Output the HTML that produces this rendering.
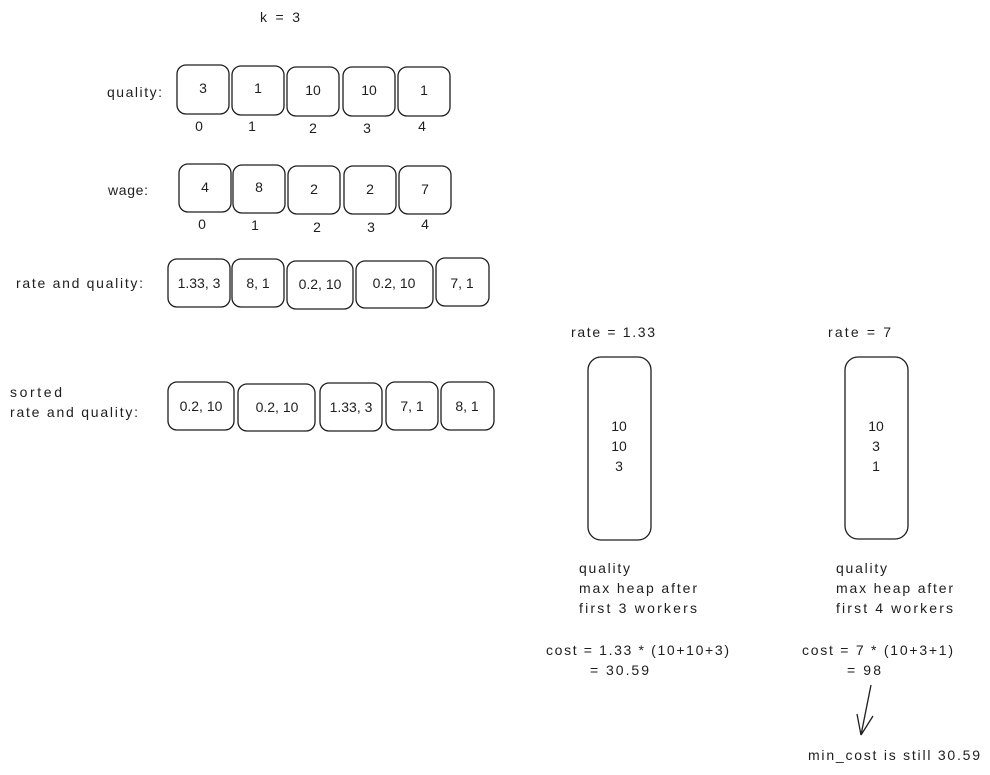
<!DOCTYPE html>
<html><head><meta charset="utf-8"><style>
html,body{margin:0;padding:0;background:#fff;}
svg{display:block;}
text{font-family:"Liberation Sans",sans-serif;font-size:14px;fill:#1e1e1e;}
rect{fill:none;stroke:#1e1e1e;stroke-width:1.3;}
</style></head><body>
<svg width="990" height="775" viewBox="0 0 990 775" xmlns="http://www.w3.org/2000/svg">
<text x="260" y="22" textLength="40">k = 3</text>

<text x="107" y="97" textLength="55">quality:</text>
<rect x="177" y="65" width="52" height="49" rx="9"/>
<rect x="232" y="66" width="52" height="49" rx="9"/>
<rect x="287" y="67" width="52" height="49" rx="9"/>
<rect x="343" y="67" width="52" height="49" rx="9"/>
<rect x="398" y="67" width="52" height="49" rx="9"/>
<g text-anchor="middle">
<text x="203" y="93">3</text><text x="258" y="93">1</text><text x="313" y="95">10</text><text x="369" y="95">10</text><text x="424" y="95">1</text>
<text x="199" y="131">0</text><text x="252" y="131">1</text><text x="313" y="133">2</text><text x="367" y="133">3</text><text x="422" y="131">4</text>
</g>

<text x="108" y="195" textLength="40">wage:</text>
<rect x="179" y="164" width="52" height="48" rx="9"/>
<rect x="233" y="165" width="52" height="48" rx="9"/>
<rect x="288" y="166" width="52" height="48" rx="9"/>
<rect x="344" y="166" width="52" height="48" rx="9"/>
<rect x="399" y="166" width="52" height="48" rx="9"/>
<g text-anchor="middle">
<text x="205" y="192">4</text><text x="259" y="192">8</text><text x="314" y="194">2</text><text x="370" y="194">2</text><text x="425" y="194">7</text>
<text x="202" y="229">0</text><text x="255" y="230">1</text><text x="317" y="232">2</text><text x="371" y="232">3</text><text x="425" y="229">4</text>
</g>

<text x="16" y="288" textLength="127">rate and quality:</text>
<rect x="168" y="259" width="62" height="48" rx="9"/>
<rect x="232" y="259" width="52" height="48" rx="9"/>
<rect x="287" y="261" width="66" height="48" rx="9"/>
<rect x="356" y="261" width="77" height="47" rx="9"/>
<rect x="436" y="258" width="53" height="48" rx="9"/>
<g text-anchor="middle">
<text x="199" y="288">1.33, 3</text><text x="258" y="288">8, 1</text><text x="320" y="289">0.2, 10</text><text x="394" y="288">0.2, 10</text><text x="462" y="288">7, 1</text>
</g>

<text x="10" y="397" textLength="52">sorted</text>
<text x="10" y="417" textLength="128">rate and quality:</text>
<rect x="168" y="382" width="66" height="48" rx="9"/>
<rect x="238" y="384" width="77" height="47" rx="9"/>
<rect x="320" y="383" width="62" height="48" rx="9"/>
<rect x="386" y="382" width="52" height="48" rx="9"/>
<rect x="441" y="382" width="53" height="48" rx="9"/>
<g text-anchor="middle">
<text x="201" y="411">0.2, 10</text><text x="277" y="412">0.2, 10</text><text x="351" y="412">1.33, 3</text><text x="412" y="411">7, 1</text><text x="467" y="411">8, 1</text>
</g>

<text x="571" y="337" textLength="84">rate = 1.33</text>
<rect x="588" y="357" width="63" height="183" rx="13"/>
<g text-anchor="middle">
<text x="619" y="431">10</text><text x="619" y="451">10</text><text x="619" y="471">3</text>
</g>
<text x="579" y="573" textLength="51">quality</text>
<text x="579" y="593" textLength="118">max heap after</text>
<text x="579" y="613" textLength="118">first 3 workers</text>
<text x="546" y="655" textLength="183">cost = 1.33 * (10+10+3)</text>
<text x="590" y="675" textLength="59">= 30.59</text>

<text x="828" y="337" textLength="63">rate = 7</text>
<rect x="845" y="357" width="63" height="182" rx="13"/>
<g text-anchor="middle">
<text x="876" y="431">10</text><text x="876" y="451">3</text><text x="876" y="471">1</text>
</g>
<text x="836" y="573" textLength="51">quality</text>
<text x="836" y="593" textLength="117">max heap after</text>
<text x="836" y="613" textLength="117">first 4 workers</text>
<text x="802" y="655" textLength="151">cost = 7 * (10+3+1)</text>
<text x="847" y="675" textLength="34">= 98</text>

<path d="M871 685 L861 735 M861 735 L857 714 M861 735 L873 716" fill="none" stroke="#1e1e1e" stroke-width="1.3"/>
<text x="808" y="760" textLength="172">min_cost is still 30.59</text>
</svg>
</body></html>
